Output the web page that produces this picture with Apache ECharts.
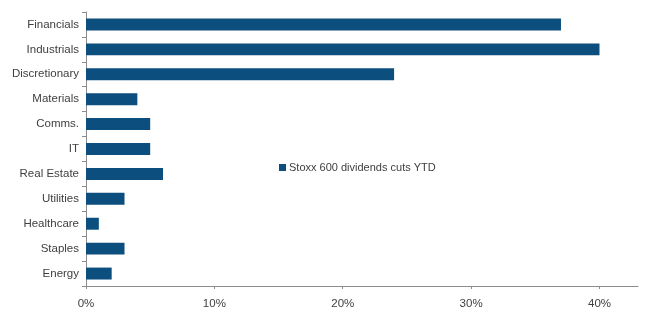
<!DOCTYPE html>
<html>
<head>
<meta charset="utf-8">
<script src="https://cdn.jsdelivr.net/npm/echarts@6/dist/echarts.min.js"></script>
<style>
  html, body { margin: 0; padding: 0; background: #fff; }
  #chart { width: 653px; height: 325px; }
</style>
</head>
<body>
<div id="chart"></div>
<script>
// Sector names, top to bottom
const sectors = ['Financials', 'Industrials', 'Discretionary', 'Materials', 'Comms.', 'IT',
  'Real Estate', 'Utilities', 'Healthcare', 'Staples', 'Energy'];
// Share of companies cutting dividends year to date (%)
const dividendCuts = [37, 40, 24, 4, 5, 5, 6, 3, 1, 3, 2];
const seriesName = 'Stoxx 600 dividends cuts YTD';

const axisGrey = '#8c8c8c';
const textGrey = '#404040';
const barBlue = '#0c4e7d';

const chart = echarts.init(document.getElementById('chart'), null, { renderer: 'canvas' });
chart.setOption({
  animation: false,
  backgroundColor: '#ffffff',
  textStyle: { fontFamily: 'Liberation Sans, Arial, sans-serif' },
  grid: { left: 86, right: 15, top: 12, bottom: 39, containLabel: false },
  legend: {
    left: 274, top: 157,
    itemWidth: 7, itemHeight: 7, itemGap: 4,
    icon: 'rect',
    textStyle: { fontSize: 11, color: textGrey, padding: [0, 0, 0, -2] },
    data: [seriesName]
  },
  xAxis: {
    type: 'value',
    min: 0, max: 43, interval: 10,
    axisLine: { show: true, lineStyle: { color: axisGrey, width: 1 } },
    axisTick: { show: true, length: 3, lineStyle: { color: axisGrey } },
    splitLine: { show: false },
    axisLabel: {
      fontSize: 11.5, color: textGrey, margin: 12,
      formatter: v => v + '%',
      showMaxLabel: false
    }
  },
  yAxis: {
    type: 'category',
    data: sectors,
    inverse: true,
    axisLine: { show: true, lineStyle: { color: axisGrey, width: 1 } },
    axisTick: { show: true, length: 4, alignWithLabel: false, lineStyle: { color: axisGrey } },
    axisLabel: { fontSize: 11.5, color: textGrey, margin: 7 }
  },
  series: [{
    name: seriesName,
    type: 'bar',
    data: dividendCuts,
    barCategoryGap: '52%',
    itemStyle: { color: barBlue }
  }]
});
</script>
</body>
</html>
